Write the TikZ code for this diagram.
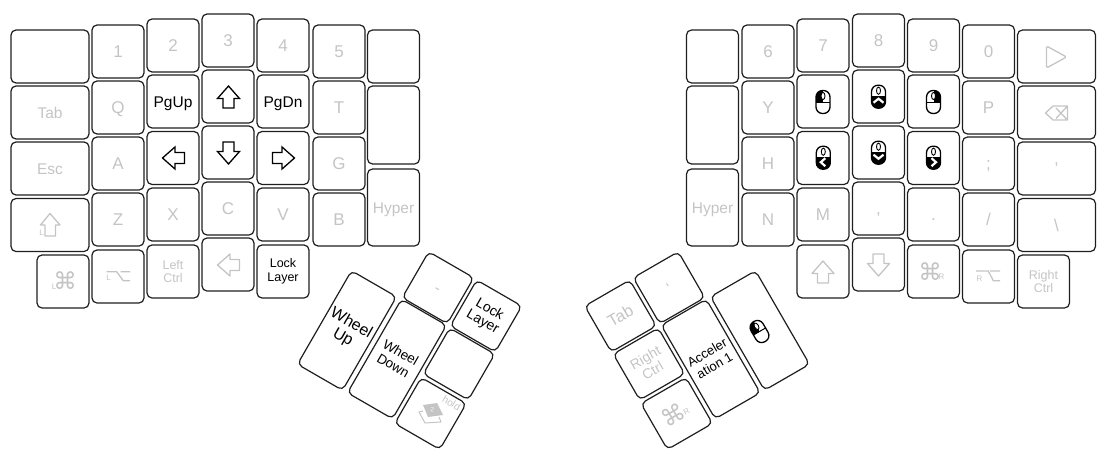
\documentclass[tikz,border=0pt]{standalone}
\usepackage{fontspec}
\setmainfont{Liberation Sans}
\newfontfamily\symf{DejaVu Sans}
\definecolor{gt}{HTML}{C4C4C4}
\definecolor{ln}{HTML}{1E1E1E}
\newcommand\fs[2]{\fontsize{#1}{#2}\selectfont}
\tikzset{
  kb/.style={draw=ln,line width=1.2pt,rounded corners=5pt,minimum width=52pt,minimum height=53pt,inner sep=0pt,outer sep=0pt,align=center,font=\fs{15.5}{17}},
  kw/.style={kb,minimum width=78pt},
  kt/.style={kb,minimum height=78pt},
  kh/.style={kb,minimum height=108pt},
  ght/.style={text=gt},
  one/.style={text height=11pt,text depth=0pt},
  ltr/.style={text=gt,font=\fs{17}{19},text height=12pt,text depth=0pt},
  small/.style={font=\fs{12.5}{13.5}},
  arr/.style={draw=black,line width=1.3pt,line join=miter},
  garr/.style={draw=gt,line width=1.3pt,line join=round},
  thin gt/.style={draw=gt,line width=1.3pt},
  tag/.style={text=gt,font=\fs{8}{9},inner sep=0pt},
  cmdsym/.style={text=gt,font=\symf\fs{23.5}{25},inner sep=0pt},
  mbody/.style={draw=black,line width=1.3pt,rounded corners=6.5pt}
}
\newcommand\uparr[4]{\begin{scope}[shift={(#1,#2)},rotate=#3]
\draw[#4] (0,-11)--(11,1.5)--(5.5,1.5)--(5.5,11)--(-5.5,11)--(-5.5,1.5)--(-11,1.5)--cycle;
\end{scope}}
\newcommand\mousefill[1]{\begin{scope}\clip[rounded corners=6.5pt] (-7,-11.5) rectangle (7,11.5);\fill[black] #1;\end{scope}}
\newcommand\mousetop{\draw[line width=.9pt,fill=white] (0,-6) ellipse (2 and 3.6);\draw[mbody] (-7,-11.5) rectangle (7,11.5);}
\newcommand\chev[1]{\draw[white,line width=2.2pt,line cap=butt,line join=miter] #1;}
\begin{document}
\begin{tikzpicture}[x=1pt,y=-1pt]
\useasboundingbox (0,0) rectangle (1109,458);
% left hand
\node[kw] (a0) at (50,56.5) {};
\node[kw,ght,one] (a1) at (50,112.5) {Tab};
\node[kw,ght,one] (a2) at (50,168.5) {Esc};
\node[kw] (a3) at (50,225) {};
\node[kb] (a4) at (63,281.5) {};
\node[kb,ltr] (b0) at (118,51.5) {1};
\node[kb,ltr] (b1) at (118,107.5) {Q};
\node[kb,ltr] (b2) at (118,163.5) {A};
\node[kb,ltr] (b3) at (118,219.5) {Z};
\node[kb] (b4) at (118,276.5) {};
\node[kb,ltr] (c0) at (173,45.5) {2};
\node[kb,one] (c1) at (173,101.5) {PgUp};
\node[kb] (c2) at (173,158) {};
\node[kb,ltr] (c3) at (173,214.5) {X};
\node[kb,ght,small] (c4) at (173,271.5) {Left\\Ctrl};
\node[kb,ltr] (d0) at (228,40.5) {3};
\node[kb] (d1) at (228,96.5) {};
\node[kb] (d2) at (228,152.5) {};
\node[kb,ltr] (d3) at (228,208.5) {C};
\node[kb] (d4) at (228,264.5) {};
\node[kb,ltr] (e0) at (283,45.5) {4};
\node[kb,one] (e1) at (283,101.5) {PgDn};
\node[kb] (e2) at (283,158) {};
\node[kb,ltr] (e3) at (283,214.5) {V};
\node[kb,small] (e4) at (283,271.5) {Lock\\Layer};
\node[kb,ltr] (f0) at (339,51.5) {5};
\node[kb,ltr] (f1) at (339,107.5) {T};
\node[kb,ltr] (f2) at (339,163.5) {G};
\node[kb,ltr] (f3) at (339,219.5) {B};
\node[kb] (g0) at (393.5,56.5) {};
\node[kt] (g1) at (393.5,125) {};
\node[kt,ght,one,minimum height=77pt] (g2) at (393.5,207.5) {Hyper};
% right hand
\node[kb] (h0) at (712.5,56.5) {};
\node[kt] (h1) at (712.5,125) {};
\node[kt,ght,one,minimum height=77pt] (h2) at (712.5,207.5) {Hyper};
\node[kb,ltr] (i0) at (768,51.5) {6};
\node[kb,ltr] (i1) at (768,107.5) {Y};
\node[kb,ltr] (i2) at (768,163.5) {H};
\node[kb,ltr] (i3) at (768,219.5) {N};
\node[kb,ltr] (j0) at (823,45.5) {7};
\node[kb] (j1) at (823,101.5) {};
\node[kb] (j2) at (823,158) {};
\node[kb,ltr] (j3) at (823,214.5) {M};
\node[kb] (j4) at (823,271.5) {};
\node[kb,ltr] (k0) at (878.5,40.5) {8};
\node[kb] (k1) at (878.5,96.5) {};
\node[kb] (k2) at (878.5,152.5) {};
\node[kb,ltr] (k3) at (878.5,208.5) {,};
\node[kb] (k4) at (878.5,264.5) {};
\node[kb,ltr] (l0) at (933.5,45.5) {9};
\node[kb] (l1) at (933.5,101.5) {};
\node[kb] (l2) at (933.5,158) {};
\node[kb,ltr] (l3) at (933.5,214.5) {.};
\node[kb] (l4) at (933.5,271.5) {};
\node[kb,ltr] (m0) at (988.5,51.5) {0};
\node[kb,ltr] (m1) at (988.5,107.5) {P};
\node[kb,ltr] (m2) at (988.5,163.5) {;};
\node[kb,ltr] (m3) at (988.5,219.5) {/};
\node[kb] (m4) at (988.5,276.5) {};
\node[kw] (n0) at (1056.5,56.5) {};
\node[kw] (n1) at (1056.5,112.5) {};
\node[kw,ltr] (n2) at (1056.5,168.5) {'};
\node[kw,ltr] (n3) at (1056.5,225) {\textbackslash};
\node[kb,ght,small] (n4) at (1043.5,281.5) {Right\\Ctrl};
% left thumb
\node[kh,rotate=-30,font=\fs{16}{16.5}] (t1) at (347,330.5) {Wheel\\Up};
\node[kh,rotate=-30,font=\fs{13.5}{15}] (t2) at (397,359) {Wheel\\Down};
\node[kb,rotate=-30,ght,one] (t3) at (438,287.7) {-};
\node[kb,rotate=-30,font=\fs{14}{14}] (t4) at (486,316) {Lock\\Layer};
\node[kb,rotate=-30] (t5) at (459,364) {};
\node[kb,rotate=-30] (t6) at (430.5,413.5) {};
% right thumb
\node[kb,rotate=30,ght,one,font=\fs{16.5}{18}] (u1) at (620.5,316) {Tab};
\node[kb,rotate=30,ght,one] (u2) at (669,287.7) {`};
\node[kb,rotate=30,ght,font=\fs{14}{14.5}] (u3) at (649,364) {Right\\Ctrl};
\node[kb,rotate=30] (u4) at (676.7,413.5) {};
\node[kh,rotate=30,font=\fs{13}{15}] (u5) at (710.7,359) {Acceler\\ation 1};
\node[kh,rotate=30] (u6) at (760,330.5) {};
% arrows
\uparr{228.5}{97}{0}{arr}
\uparr{228.5}{153}{180}{arr}
\uparr{173.5}{158}{90}{arr}
\uparr{283.5}{158}{-90}{arr}
\uparr{228.5}{265}{90}{garr}
\uparr{823}{272}{0}{garr}
\uparr{878.5}{265}{180}{garr}
% shift
\draw[garr] (50,213.5)--(60,225)--(55.5,225)--(55.5,236)--(45,236)--(45,225)--(40.5,225)--cycle;
\node[tag] (sl) at (41.5,233) {L};
% cmd, option
\node[cmdsym] (cl) at (65,281) {⌘};
\node[tag] (cll) at (54,287) {L};
\node[cmdsym] (cr) at (930,272) {⌘};
\node[tag] (crr) at (941.5,277) {R};
\draw[thin gt] (106.7,271.7)--(116.7,271.7)--(123.3,280.7)--(130,280.7) (120.7,271.7)--(130,271.7);
\node[tag] (ol) at (108.5,278) {L};
\draw[thin gt] (976,271)--(988.3,271)--(993.3,280.7)--(1000,280.7) (990,271)--(1000,271);
\node[tag] (or) at (979.5,279) {R};
\node[cmdsym,rotate=30] (cth) at (673,415) {⌘};
\node[tag,rotate=30] (cthr) at (686.5,412) {R};
% play, backspace
\draw[thin gt,rounded corners=1.5pt] (1046.5,46)--(1066.5,57)--(1046.5,68)--cycle;
\draw[thin gt,line join=round] (1045.5,113)--(1053,106)--(1067.5,106)--(1067.5,120)--(1053,120)--cycle (1056,108)--(1067,119.5) (1067,106.5)--(1056,118.5);
% mouse icons
\begin{scope}[shift={(823,102)}]\mousefill{(-7,-11.5) rectangle (0,0)}\draw[black,line width=1pt] (-7,0)--(7,0);\mousetop\end{scope}
\begin{scope}[shift={(933.5,102)}]\mousefill{(0,-11.5) rectangle (7,0)}\draw[black,line width=1pt] (-7,0)--(7,0);\mousetop\end{scope}
\begin{scope}[shift={(878.5,96.7)}]\mousefill{(-7,-1) rectangle (7,11.5)}\mousetop\chev{(-5,6)--(0,2)--(5,6)}\end{scope}
\begin{scope}[shift={(878.5,152.7)}]\mousefill{(-7,-1) rectangle (7,11.5)}\mousetop\chev{(-5,2)--(0,6)--(5,2)}\end{scope}
\begin{scope}[shift={(823.3,157.7)}]\mousefill{(-7,-1) rectangle (7,11.5)}\mousetop\chev{(2,0.5)--(-2.5,4.5)--(2,8.5)}\end{scope}
\begin{scope}[shift={(933.5,157.7)}]\mousefill{(-7,-1) rectangle (7,11.5)}\mousetop\chev{(-2,0.5)--(2.5,4.5)--(-2,8.5)}\end{scope}
\begin{scope}[shift={(759.5,331.5)},rotate=30]\mousefill{(-7,-11.5) rectangle (0,0)}\draw[black,line width=1pt] (-7,0)--(7,0);\mousetop\end{scope}
% hold
\node[text=gt,font=\fs{10}{11},rotate=-30,inner sep=0pt] (ht) at (451.5,403) {hold};
\draw[thin gt,line width=1pt,line join=round] (423,411)--(419,412)--(425,423)--(441,422)--(439,417);
\fill[gt] (423,405)--(437,403)--(443,415)--(428,417)--cycle;
\node[text=white,font=\fs{6}{7},inner sep=0pt,rotate=-10] (h2t) at (432.5,410) {2};
\end{tikzpicture}
\end{document}
